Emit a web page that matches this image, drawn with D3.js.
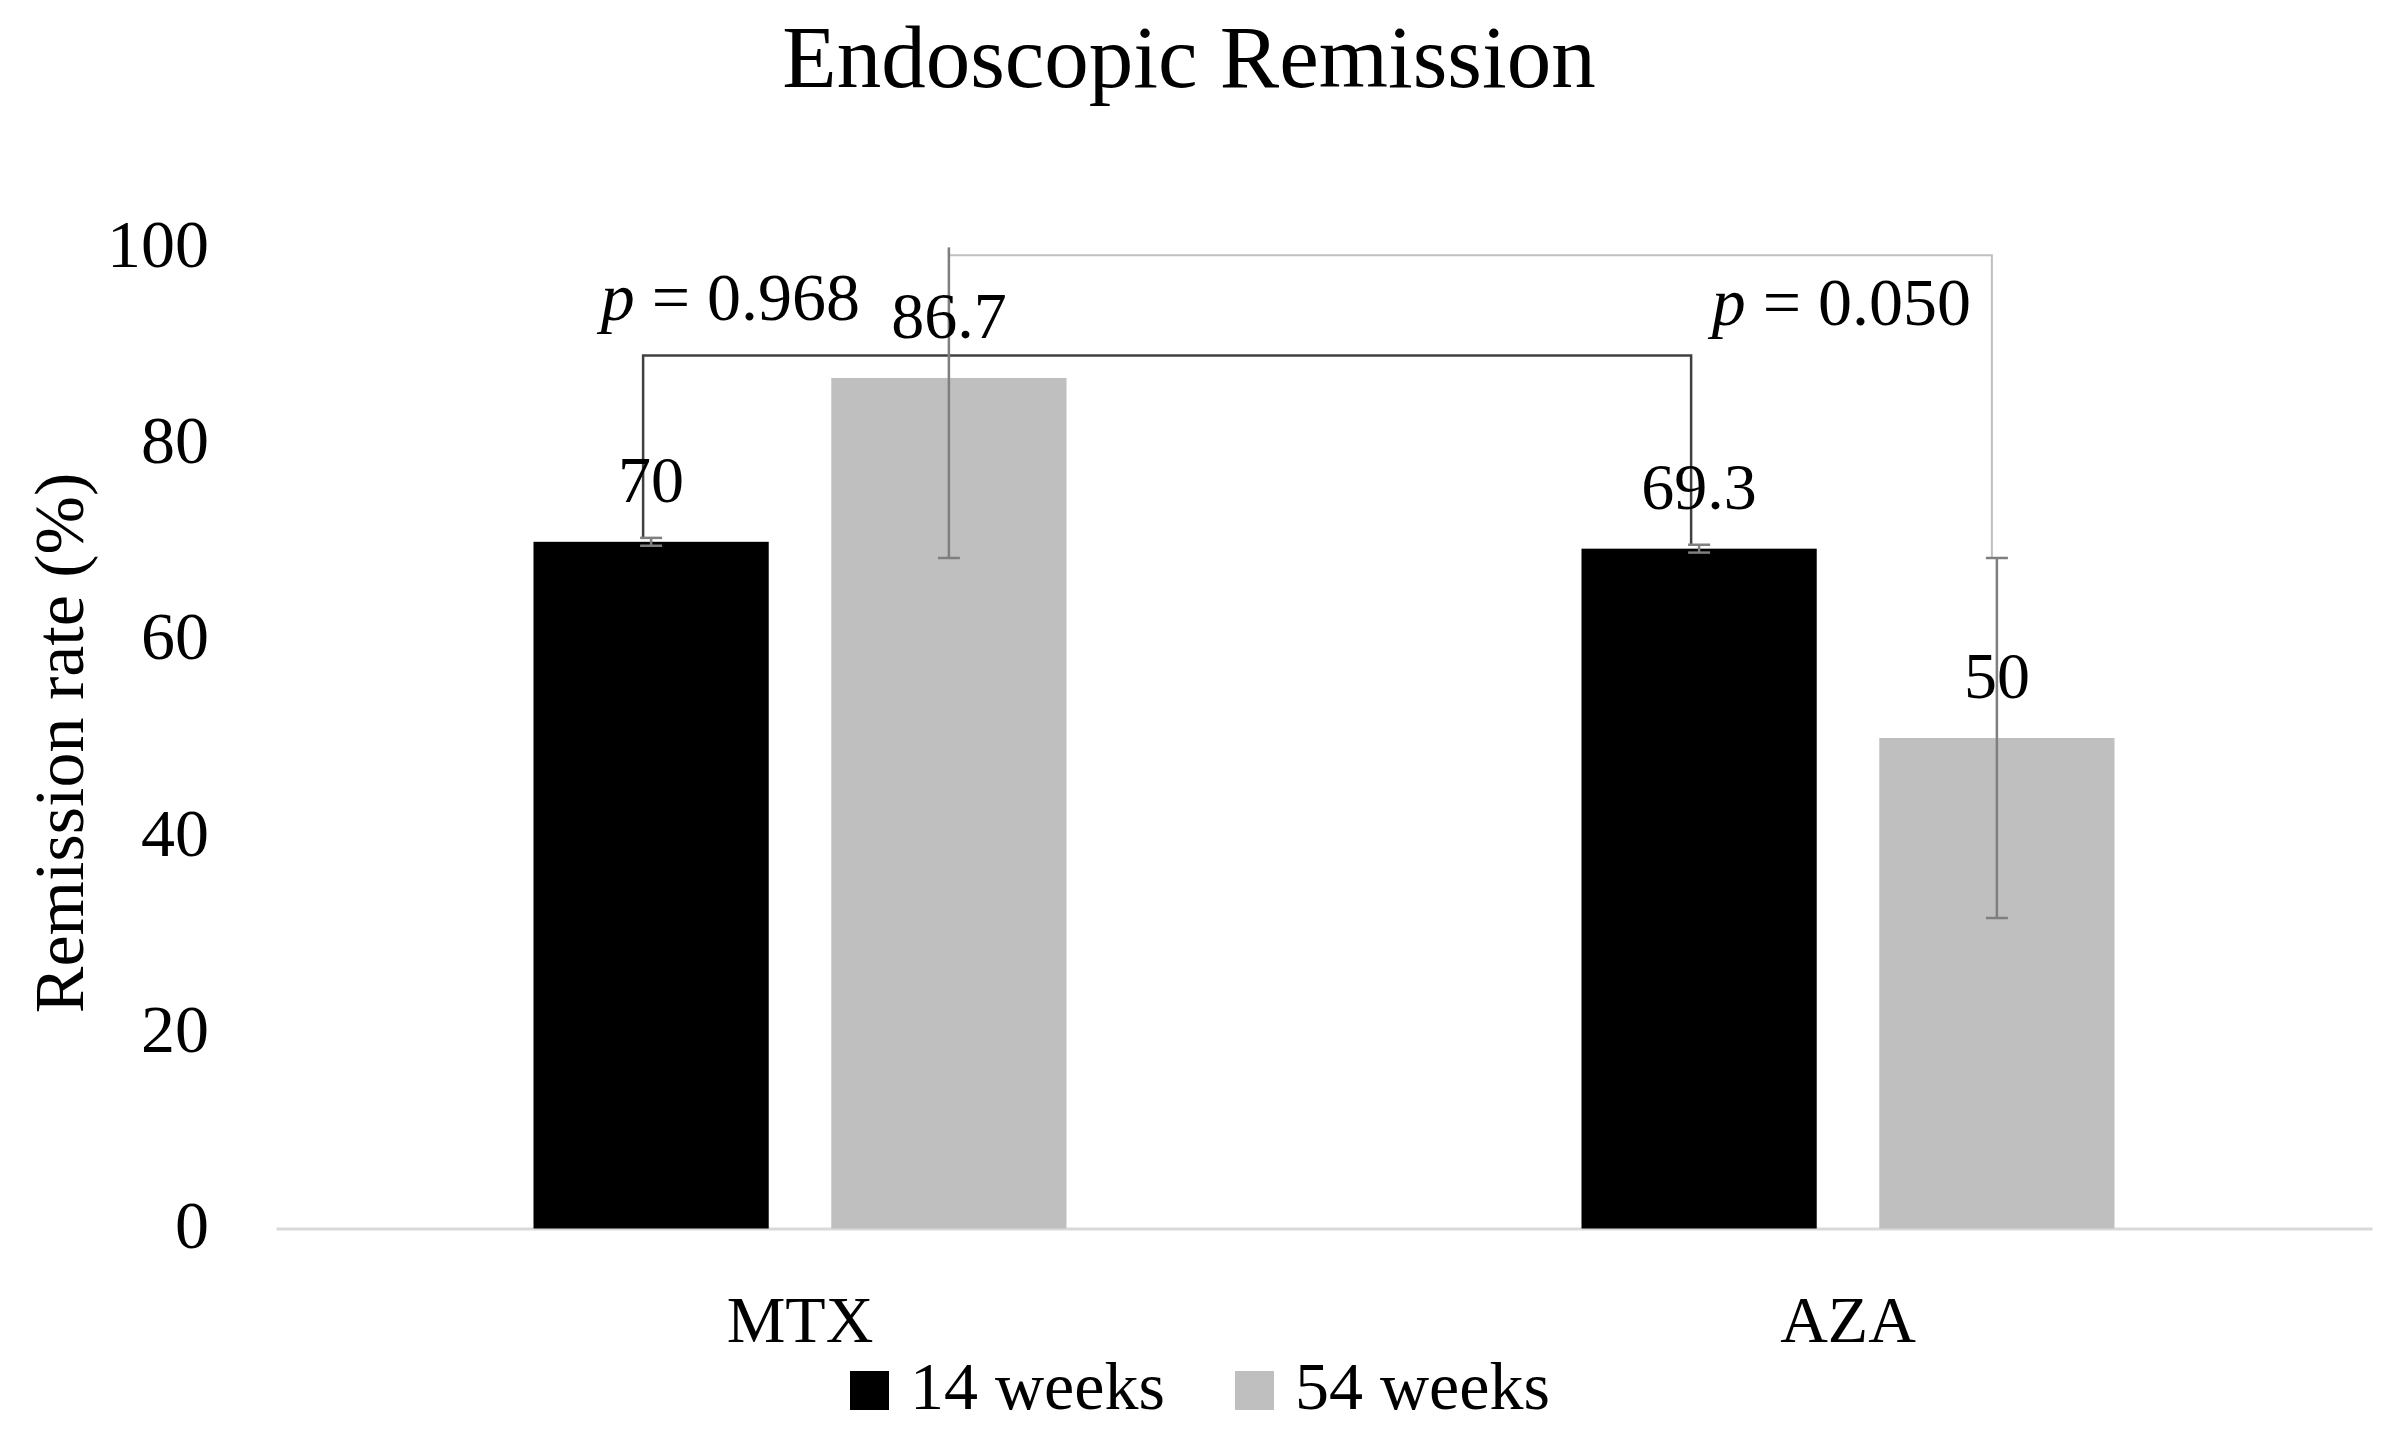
<!DOCTYPE html>
<html>
<head>
<meta charset="utf-8">
<script src="https://cdn.jsdelivr.net/npm/d3@7"></script>
<style>
  body { margin: 0; background: #fff; }
  text { font-family: "Liberation Serif", "Times New Roman", serif; fill: #000; }
</style>
</head>
<body>
<div id="chart"></div>
<script>
// data
const categories = ["MTX", "AZA"];
const series = ["14 weeks", "54 weeks"];
const colors = ["#000000", "#bfbfbf"];
const values = [[70, 86.7], [69.3, 50]];        // values[cat][series]
const errors = [[0.4, 18.35], [0.4, 18.35]];
const valueLabels = [["70", "86.7"], ["69.3", "50"]];
const yTicks = [0, 20, 40, 60, 80, 100];
// comparison brackets: [cat, series] -> [cat, series] at a given level
const brackets = [
  { a: [0, 0], b: [1, 0], level: 89, color: "#404040", p: "0.968" },
  { a: [0, 1], b: [1, 1], level: 99.2, color: "#bfbfbf", p: "0.050" }
];

const width = 2400, height = 1443;
const margin = { top: 247.5, right: 28, bottom: 214.5, left: 276 };

const svg = d3.select("#chart")
  .append("svg")
  .attr("width", width)
  .attr("height", height)
  .style("background", "white");

const x0 = d3.scaleBand()
  .domain(categories)
  .range([margin.left, width - margin.right])
  .padding(0);

const groupW = 533;
const x1 = d3.scaleBand()
  .domain(series)
  .range([-groupW / 2, groupW / 2])
  .paddingInner(0.21);

const y = d3.scaleLinear()
  .domain([0, 100])
  .range([height - margin.bottom, margin.top]);

const barCenter = (c, s) => x0(categories[c]) + x0.bandwidth() / 2 + x1(series[s]) + x1.bandwidth() / 2;
const errTop = (c, s) => Math.min(values[c][s] + errors[c][s], 100);

// title
svg.append("text")
  .attr("x", 1189)
  .attr("y", 87)
  .attr("text-anchor", "middle")
  .attr("font-size", "89px")
  .text("Endoscopic Remission");

// y axis
const yAxis = svg.append("g")
  .attr("transform", `translate(${margin.left},0)`)
  .call(d3.axisLeft(y).tickValues(yTicks).tickSize(0).tickPadding(67));
yAxis.select(".domain").remove();
yAxis.selectAll("text")
  .attr("font-family", "Liberation Serif")
  .attr("font-size", "68px")
  .attr("dy", "0.28em")
  .attr("fill", "#000");

svg.append("text")
  .attr("transform", `translate(83,${743}) rotate(-90)`)
  .attr("text-anchor", "middle")
  .attr("font-size", "70px")
  .text("Remission rate (%)");

// x axis
const xAxis = svg.append("g")
  .attr("transform", `translate(0,${y(0)})`)
  .call(d3.axisBottom(x0).tickSize(0).tickSizeOuter(0));
xAxis.select(".domain")
  .attr("stroke", "#d9d9d9")
  .attr("stroke-width", 3);
xAxis.selectAll("text")
  .attr("font-family", "Liberation Serif")
  .attr("font-size", "66px")
  .attr("y", 113)
  .attr("dy", 0)
  .attr("fill", "#000");

// bars
const cells = [];
categories.forEach((c, ci) => series.forEach((s, si) => cells.push({ ci, si })));

svg.append("g")
  .selectAll("rect")
  .data(cells)
  .join("rect")
  .attr("x", d => x0(categories[d.ci]) + x0.bandwidth() / 2 + x1(series[d.si]))
  .attr("y", d => y(values[d.ci][d.si]))
  .attr("width", x1.bandwidth())
  .attr("height", d => y(0) - y(values[d.ci][d.si]))
  .attr("fill", d => colors[d.si]);

// brackets (under the error bars)
const bg = svg.append("g").attr("fill", "none");
brackets.forEach((b, i) => {
  const dx = i === 0 ? -8 : 0;
  const xa = barCenter(b.a[0], b.a[1]) + dx;
  const xb = barCenter(b.b[0], b.b[1]) + dx - (i === 0 ? 0 : 5);
  bg.append("path")
    .attr("d", `M${xa},${y(errTop(b.a[0], b.a[1]))}V${y(b.level)}H${xb}V${y(errTop(b.b[0], b.b[1]))}`)
    .attr("stroke", b.color)
    .attr("stroke-width", i === 0 ? 2.5 : 2);
});

// error bars
const eg = svg.append("g").attr("stroke", "#7f7f7f").attr("stroke-width", 2.5);
cells.forEach(d => {
  const cx = barCenter(d.ci, d.si);
  const v = values[d.ci][d.si], e = errors[d.ci][d.si];
  const lo = v - e, hi = errTop(d.ci, d.si);
  eg.append("line").attr("x1", cx).attr("x2", cx).attr("y1", y(lo)).attr("y2", y(hi));
  eg.append("line").attr("x1", cx - 11).attr("x2", cx + 11).attr("y1", y(lo)).attr("y2", y(lo));
  if (v + e <= 100) {
    eg.append("line").attr("x1", cx - 11).attr("x2", cx + 11).attr("y1", y(hi)).attr("y2", y(hi));
  }
});

// value labels
svg.append("g")
  .selectAll("text")
  .data(cells)
  .join("text")
  .attr("x", d => barCenter(d.ci, d.si))
  .attr("y", d => y(values[d.ci][d.si]) - 40)
  .attr("text-anchor", "middle")
  .attr("font-size", "66px")
  .text(d => valueLabels[d.ci][d.si]);

// p values
const pPos = [{ x: 860, y: 320 }, { x: 1971, y: 325 }];
brackets.forEach((b, i) => {
  const t = svg.append("text")
    .attr("x", pPos[i].x)
    .attr("y", pPos[i].y)
    .attr("text-anchor", "end")
    .attr("font-size", "68px");
  t.append("tspan").attr("font-style", "italic").text("p");
  t.append("tspan").text(" = " + b.p);
});

// legend
const lg = svg.append("g");
const legX = [850, 1235];
series.forEach((s, i) => {
  lg.append("rect")
    .attr("x", legX[i]).attr("y", 1371)
    .attr("width", 39).attr("height", 39)
    .attr("fill", colors[i]);
  lg.append("text")
    .attr("x", legX[i] + 60).attr("y", 1409)
    .attr("font-size", "68px")
    .text(s);
});
</script>
</body>
</html>
